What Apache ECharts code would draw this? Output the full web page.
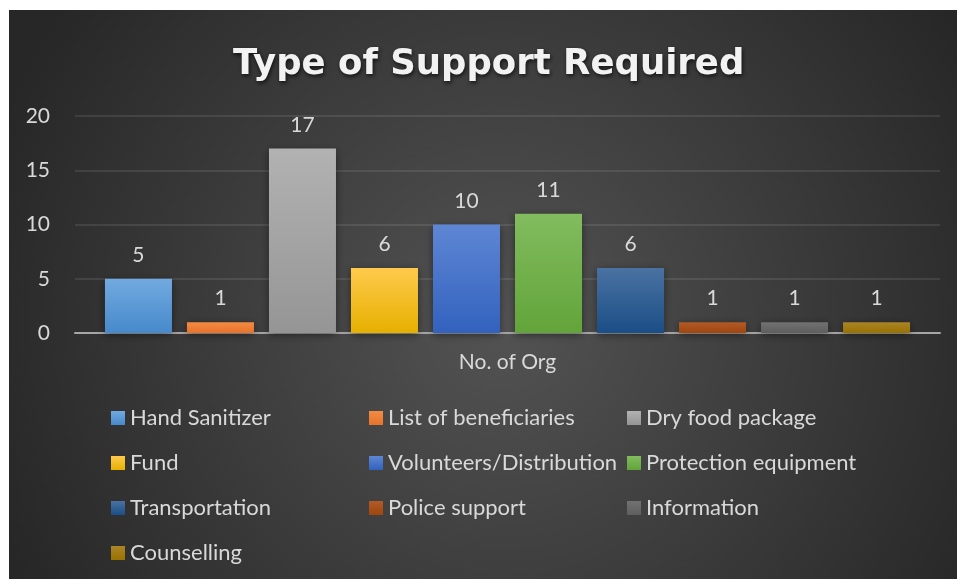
<!DOCTYPE html>
<html>
<head>
<meta charset="utf-8">
<script src="https://cdn.jsdelivr.net/npm/echarts@6/dist/echarts.min.js"></script>
<style>
html,body{margin:0;padding:0;background:#fff;width:957px;height:579px;overflow:hidden;}
#chart{position:absolute;left:9px;top:10px;width:948px;height:569px;}
</style>
</head>
<body>
<div id="chart"></div>
<script>
const titleText = 'Type of Support Required';
const categories = ['No. of Org'];
const seriesNames = ['Hand Sanitizer','List of beneficiaries','Dry food package','Fund','Volunteers/Distribution','Protection equipment','Transportation','Police support','Information','Counselling'];
const seriesValues = [5, 1, 17, 6, 10, 11, 6, 1, 1, 1];
const yTicks = {min: 0, max: 20, interval: 5};
const colorTop = ['#72aae0','#f28c44','#b2b2b2','#ffca4c','#5e86d4','#82bc5e','#4a72a2','#b25a28','#727272','#aa8428'];
const colorBottom = ['#4689cb','#e8722a','#959595','#e6b000','#3262be','#62a43a','#1a4e86','#a0460e','#5e5e5e','#9a7200'];

const legendCols = [[0,3,6,9],[1,4,7],[2,5,8]];
const legendLefts = [102, 360, 618];

const chart = echarts.init(document.getElementById('chart'));
const txt = '#d9d9d9';
const font = 'Lato, "Open Sans", sans-serif';

const series = seriesNames.map((n, i) => ({
  name: n,
  type: 'bar',
  data: [seriesValues[i]],
  barWidth: 67,
  barGap: '22.4%',
  itemStyle: {
    color: {type:'linear', x:0, y:0, x2:0, y2:1, colorStops:[{offset:0,color:colorTop[i]},{offset:1,color:colorBottom[i]}]},
    shadowColor: 'rgba(0,0,0,0.45)', shadowBlur: 8, shadowOffsetY: 2
  },
  label: {show: true, position: 'top', distance: 13, color: txt, fontSize: 21, fontFamily: font}
}));

const legends = legendCols.map((col, k) => ({
  orient: 'vertical',
  left: legendLefts[k],
  top: 397,
  padding: 0,
  itemGap: 23,
  itemWidth: 14,
  itemHeight: 14,
  icon: 'rect',
  data: col.map(i => seriesNames[i]),
  textStyle: {color: txt, fontSize: 22, fontFamily: font, padding: [0,0,0,0]},
  selectedMode: false
}));

chart.setOption({
  backgroundColor: {type:'radial', x:0.52, y:0.55, r:0.95, colorStops:[{offset:0,color:'#535353'},{offset:1,color:'#272727'}]},
  animation: false,
  title: {
    text: titleText, left: 219, top: 32,
    textStyle: {color:'#f2f2f2', fontSize: 35.5, fontWeight: 'bold', fontFamily: '"DejaVu Sans", "Open Sans", sans-serif',
      textShadowColor:'rgba(0,0,0,0.7)', textShadowBlur: 4, textShadowOffsetX: 1, textShadowOffsetY: 2}
  },
  legend: legends,
  grid: {left: 66, right: 17, top: 106, bottom: 246},
  xAxis: {
    type: 'category', data: categories,
    axisTick: {show: false},
    axisLine: {lineStyle: {color: '#a6a6a6', width: 2}},
    axisLabel: {color: txt, fontSize: 21, fontFamily: font, margin: 19}
  },
  yAxis: {
    type: 'value', min: yTicks.min, max: yTicks.max, interval: yTicks.interval,
    axisLine: {show: false}, axisTick: {show: false},
    axisLabel: {color: txt, fontSize: 21, fontFamily: font, margin: 25},
    splitLine: {lineStyle: {color: 'rgba(255,255,255,0.13)', width: 1.5}}
  },
  series: series
});
</script>
</body>
</html>
